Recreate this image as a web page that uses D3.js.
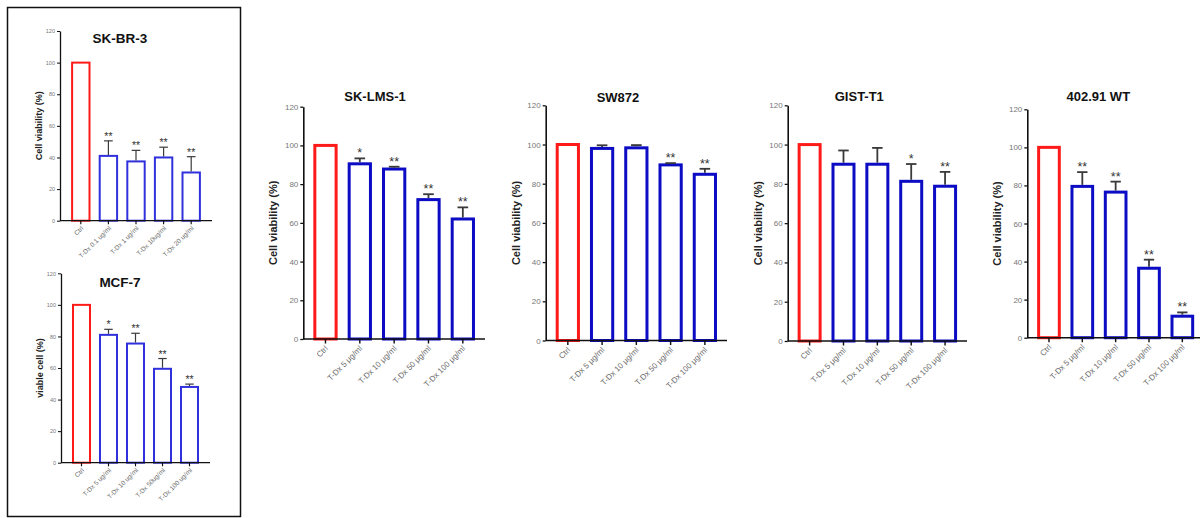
<!DOCTYPE html>
<html>
<head>
<meta charset="utf-8">
<script src="https://cdn.jsdelivr.net/npm/d3@7"></script>
<style>
  body { margin: 0; background: #fff; }
  svg { display: block; font-family: Arial, "Liberation Sans", sans-serif; }
</style>
</head>
<body>
<svg id="chart" width="1200" height="518"></svg>
<script>
// categories
const catsSKBR3 = ['Ctrl', 'T-Dx 0.1 ug/ml', 'T-Dx 1 ug/ml', 'T-Dx 10ug/ml', 'T-Dx 20 ug/ml'];
const catsMCF7 = ['Ctrl', 'T-Dx 5 ug/ml', 'T-Dx 10 ug/ml', 'T-Dx 50ug/ml', 'T-Dx 100 ug/ml'];
const catsSarcoma = ['Ctrl', 'T-Dx 5 μg/ml', 'T-Dx 10 μg/ml', 'T-Dx 50 μg/ml', 'T-Dx 100 μg/ml'];

// mean viability (%) and upper error (SEM)
const valsSKBR3 = [100, 41, 37.5, 40, 30.5];
const errSKBR3 = [0, 9.5, 7, 6.5, 10];
const starsSKBR3 = ['', '**', '**', '**', '**'];

const valsMCF7 = [100, 81, 75.5, 59.5, 48];
const errMCF7 = [0, 3.5, 6.5, 6.5, 1.8];
const starsMCF7 = ['', '*', '**', '**', '**'];

const valsSKLMS1 = [100, 90.5, 87.8, 72, 62];
const errSKLMS1 = [0, 2.8, 1.2, 2.8, 6];
const starsSKLMS1 = ['', '*', '**', '**', '**'];

const valsSW872 = [100, 98, 98.3, 89.6, 84.8];
const errSW872 = [0, 1.6, 1.4, 0.9, 2.8];
const starsSW872 = ['', '', '', '**', '**'];

const valsGIST = [100, 90, 90, 81.3, 78.8];
const errGIST = [0, 7, 8.3, 8.8, 7.3];
const starsGIST = ['', '', '', '*', '**'];

const valsWT = [100, 79.5, 76.5, 36.5, 11.3];
const errWT = [0, 7.5, 5.5, 4.5, 2];
const starsWT = ['', '**', '**', '**', '**'];

const yTicks = [0, 20, 40, 60, 80, 100, 120];

const svg = d3.select('#chart');

// frame around the two breast cancer panels
svg.append('rect')
    .attr('x', 7.5).attr('y', 7.5)
    .attr('width', 233).attr('height', 509)
    .attr('fill', 'none')
    .attr('stroke', '#111')
    .attr('stroke-width', 1.5);

// small panels (left box) and large panels (right row) share one drawing routine
const small = { tickFont: 5.5, labelFont: 6.5, yLabelFont: 9, titleFont: 13.5, starFont: 10.5,
                barStroke: 2, axisStroke: 1.3, blue: '#3030dc', pad: 0.37, inset: 7,
                yLabelOff: 18, labelDy: 8 };
const large = { tickFont: 8, labelFont: 8, yLabelFont: 11, titleFont: 13, starFont: 12.5,
                barStroke: 3, axisStroke: 1.6, blue: '#0c0cc4', pad: 0.38, inset: 5,
                yLabelOff: 26, labelDy: 10 };

const panels = [
    { title: 'SK-BR-3', cats: catsSKBR3, vals: valsSKBR3, err: errSKBR3, stars: starsSKBR3,
      ylabel: 'Cell viability (%)', x0: 60, x1: 212, yTop: 31, yBot: 220.7, tx: 120, ty: 42.5, st: small },
    { title: 'MCF-7', cats: catsMCF7, vals: valsMCF7, err: errMCF7, stars: starsMCF7,
      ylabel: 'viable cell (%)', x0: 61, x1: 210, yTop: 273.3, yBot: 462.7, tx: 120, ty: 287.3, st: small },
    { title: 'SK-LMS-1', cats: catsSarcoma, vals: valsSKLMS1, err: errSKLMS1, stars: starsSKLMS1,
      ylabel: 'Cell viability (%)', x0: 303.3, x1: 485, yTop: 106.7, yBot: 339, tx: 375, ty: 100.5, st: large },
    { title: 'SW872', cats: catsSarcoma, vals: valsSW872, err: errSW872, stars: starsSW872,
      ylabel: 'Cell viability (%)', x0: 545.7, x1: 727, yTop: 105.3, yBot: 340.5, tx: 618, ty: 101.5, st: large },
    { title: 'GIST-T1', cats: catsSarcoma, vals: valsGIST, err: errGIST, stars: starsGIST,
      ylabel: 'Cell viability (%)', x0: 787.7, x1: 967, yTop: 105.3, yBot: 341, tx: 859.3, ty: 101, st: large },
    { title: '402.91 WT', cats: catsSarcoma, vals: valsWT, err: errWT, stars: starsWT,
      ylabel: 'Cell viability (%)', x0: 1027.3, x1: 1204, yTop: 109.3, yBot: 337.7, tx: 1098.3, ty: 101.3, st: large }
];

function drawPanel(p) {
    const st = p.st;
    const g = svg.append('g').attr('class', 'panel');

    const x = d3.scaleBand()
        .domain(p.cats)
        .range([p.x0 + st.inset, p.x1 - st.inset])
        .paddingInner(st.pad)
        .paddingOuter(st.pad / 2);

    const y = d3.scaleLinear()
        .domain([0, 120])
        .range([p.yBot, p.yTop]);

    const rows = p.cats.map((c, i) => ({ cat: c, v: p.vals[i], e: p.err[i], s: p.stars[i], i }));

    // bars
    g.selectAll('rect.bar')
        .data(rows)
        .enter().append('rect')
        .attr('class', 'bar')
        .attr('x', d => x(d.cat))
        .attr('y', d => y(d.v))
        .attr('width', x.bandwidth())
        .attr('height', d => y(0) - y(d.v))
        .attr('fill', '#fff')
        .attr('stroke', d => d.i === 0 ? '#ff1a1a' : st.blue)
        .attr('stroke-width', st.barStroke);

    // upper error bars
    const withErr = rows.filter(d => d.e > 0);
    const cx = d => x(d.cat) + x.bandwidth() / 2;
    const capW = x.bandwidth() * 0.5;

    g.selectAll('line.err')
        .data(withErr)
        .enter().append('line')
        .attr('class', 'err')
        .attr('x1', cx).attr('x2', cx)
        .attr('y1', d => y(d.v) - st.barStroke / 2)
        .attr('y2', d => y(d.v + d.e))
        .attr('stroke', '#3a3a3a')
        .attr('stroke-width', st.barStroke * 0.6);

    g.selectAll('line.cap')
        .data(withErr)
        .enter().append('line')
        .attr('class', 'cap')
        .attr('x1', d => cx(d) - capW / 2).attr('x2', d => cx(d) + capW / 2)
        .attr('y1', d => y(d.v + d.e)).attr('y2', d => y(d.v + d.e))
        .attr('stroke', '#3a3a3a')
        .attr('stroke-width', st.barStroke * 0.6);

    // significance stars
    g.selectAll('text.star')
        .data(rows.filter(d => d.s))
        .enter().append('text')
        .attr('class', 'star')
        .attr('x', cx)
        .attr('y', d => y(d.v + d.e) - 1)
        .attr('text-anchor', 'middle')
        .attr('font-size', st.starFont)
        .attr('fill', '#333')
        .text(d => d.s);

    // y axis
    const yAxis = g.append('g')
        .attr('transform', `translate(${p.x0},0)`)
        .call(d3.axisLeft(y).tickValues(yTicks).tickSize(3).tickPadding(2).tickSizeOuter(0));
    yAxis.select('.domain').attr('stroke', '#111').attr('stroke-width', st.axisStroke);
    yAxis.selectAll('.tick line').attr('stroke', '#111').attr('stroke-width', st.axisStroke * 0.8);
    yAxis.selectAll('.tick text')
        .attr('font-size', st.tickFont)
        .attr('font-family', 'Arial, "Liberation Sans", sans-serif')
        .attr('fill', '#777');

    // x axis
    const xAxis = g.append('g')
        .attr('transform', `translate(0,${p.yBot})`)
        .call(d3.axisBottom(x).tickSize(st.labelDy * 0.45).tickSizeOuter(0).tickFormat(''));
    xAxis.select('.domain').remove();
    xAxis.selectAll('.tick line').attr('stroke', '#111').attr('stroke-width', st.axisStroke * 0.9);
    g.append('line')
        .attr('x1', p.x0).attr('x2', p.x1)
        .attr('y1', p.yBot).attr('y2', p.yBot)
        .attr('stroke', '#111')
        .attr('stroke-width', st.axisStroke);

    g.selectAll('text.xlab')
        .data(rows)
        .enter().append('text')
        .attr('class', 'xlab')
        .attr('text-anchor', 'end')
        .attr('transform', d => `translate(${cx(d) + 3},${p.yBot + st.labelDy}) rotate(-45)`)
        .attr('font-size', st.labelFont)
        .attr('fill', '#6a6a6a')
        .text(d => d.cat);

    // y label
    g.append('text')
        .attr('transform', `translate(${p.x0 - st.yLabelOff},${(p.yTop + p.yBot) / 2}) rotate(-90)`)
        .attr('text-anchor', 'middle')
        .attr('font-size', st.yLabelFont)
        .attr('font-weight', 'bold')
        .attr('fill', '#222')
        .text(p.ylabel);

    // title
    g.append('text')
        .attr('x', p.tx).attr('y', p.ty)
        .attr('text-anchor', 'middle')
        .attr('font-size', st.titleFont)
        .attr('font-weight', 'bold')
        .attr('fill', '#111')
        .text(p.title);
}

panels.forEach(drawPanel);
</script>
</body>
</html>
